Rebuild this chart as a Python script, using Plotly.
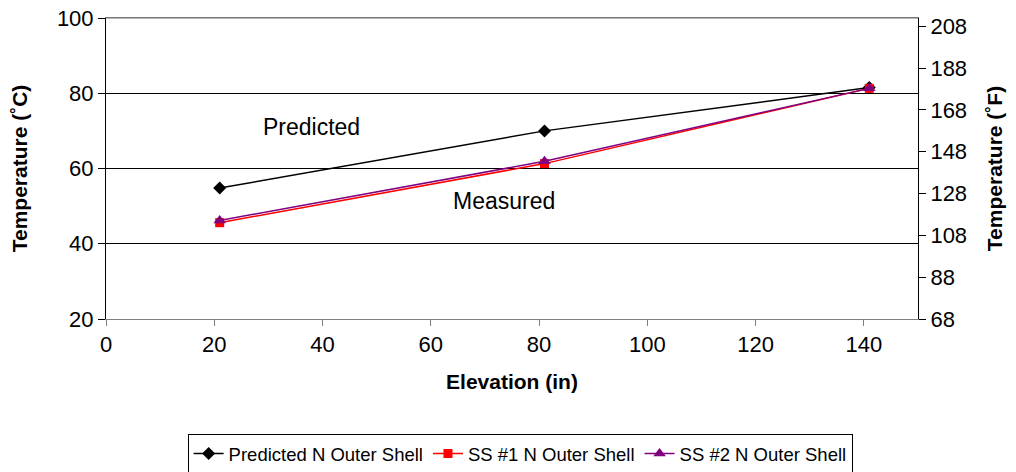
import plotly.graph_objects as go

elevation = [21, 81, 141]
predicted = [54.8, 70.0, 81.5]
ss1 = [45.6, 61.3, 81.3]
ss2 = [46.2, 61.9, 81.3]

x_ticks = [0, 20, 40, 60, 80, 100, 120, 140]
y_ticks_c = [20, 40, 60, 80, 100]
y_ticks_f = [68, 88, 108, 128, 148, 168, 188, 208]

FONT = "Liberation Sans, Arial, sans-serif"

fig = go.Figure()
fig.add_trace(go.Scatter(x=elevation, y=predicted, mode="lines+markers",
                         name="Predicted N Outer Shell",
                         line=dict(color="black", width=1.5),
                         marker=dict(symbol="diamond", size=10, color="black")))
fig.add_trace(go.Scatter(x=elevation, y=ss1, mode="lines+markers",
                         name="SS #1 N Outer Shell",
                         line=dict(color="#ff0000", width=1.5),
                         marker=dict(symbol="square", size=9, color="#ff0000")))
fig.add_trace(go.Scatter(x=elevation, y=ss2, mode="lines+markers",
                         name="SS #2 N Outer Shell",
                         line=dict(color="#800080", width=1.5),
                         marker=dict(symbol="triangle-up", size=11, color="#800080")))
# invisible trace on Fahrenheit axis so the secondary axis renders
fig.add_trace(go.Scatter(x=elevation, y=[v * 1.8 + 32 for v in predicted],
                         yaxis="y2", mode="lines", opacity=0, showlegend=False,
                         hoverinfo="skip"))

fig.add_annotation(x=38.0, y=71.0, text="Predicted", showarrow=False,
                   font=dict(size=23, color="black", family=FONT))
fig.add_annotation(x=73.5, y=51.4, text="Measured", showarrow=False,
                   font=dict(size=23, color="black", family=FONT))

# top frame line of the plot area
fig.add_shape(type="line", xref="paper", x0=0, x1=1, yref="paper", y0=1, y1=1,
              line=dict(color="#707070", width=1.2), layer="above")

fig.update_layout(
    width=1016, height=472,
    margin=dict(l=98, r=106, t=10, b=161, autoexpand=False),
    paper_bgcolor="white", plot_bgcolor="white",
    font=dict(family=FONT, size=22, color="black"),
    showlegend=True,
    legend=dict(orientation="h", x=0.51, xanchor="center", y=-0.382, yanchor="top",
                bordercolor="black", borderwidth=1, font=dict(size=18.5),
                itemwidth=30, tracegroupgap=0),
    xaxis=dict(range=[0, 150], tickvals=x_ticks, automargin=False,
               showgrid=False, zeroline=False, showline=True, linecolor="#808080",
               linewidth=1, ticks="outside", ticklen=6, tickcolor="#808080",
               mirror=True, ticklabeloverflow="allow",
               title=dict(text="<b>Elevation (in)</b>", font=dict(size=21), standoff=17)),
    yaxis=dict(range=[20, 100], tickvals=y_ticks_c, showgrid=True, automargin=False,
               gridcolor="black", gridwidth=1, zeroline=False, showline=True,
               linecolor="black", linewidth=1, ticks="outside", ticklen=7,
               tickcolor="black", ticklabeloverflow="allow",
               title=dict(text="<b>Temperature (˚C)</b>", font=dict(size=21), standoff=36)),
    yaxis2=dict(range=[68, 212], tickvals=y_ticks_f, overlaying="y", side="right",
                automargin=False, ticklabeloverflow="allow",
                showgrid=False, zeroline=False, showline=True, linecolor="black",
                linewidth=1, ticks="outside", ticklen=7, tickcolor="black",
                title=dict(text="<b>Temperature (˚F)</b>", font=dict(size=21), standoff=21)),
)

fig.write_html("out.html")
